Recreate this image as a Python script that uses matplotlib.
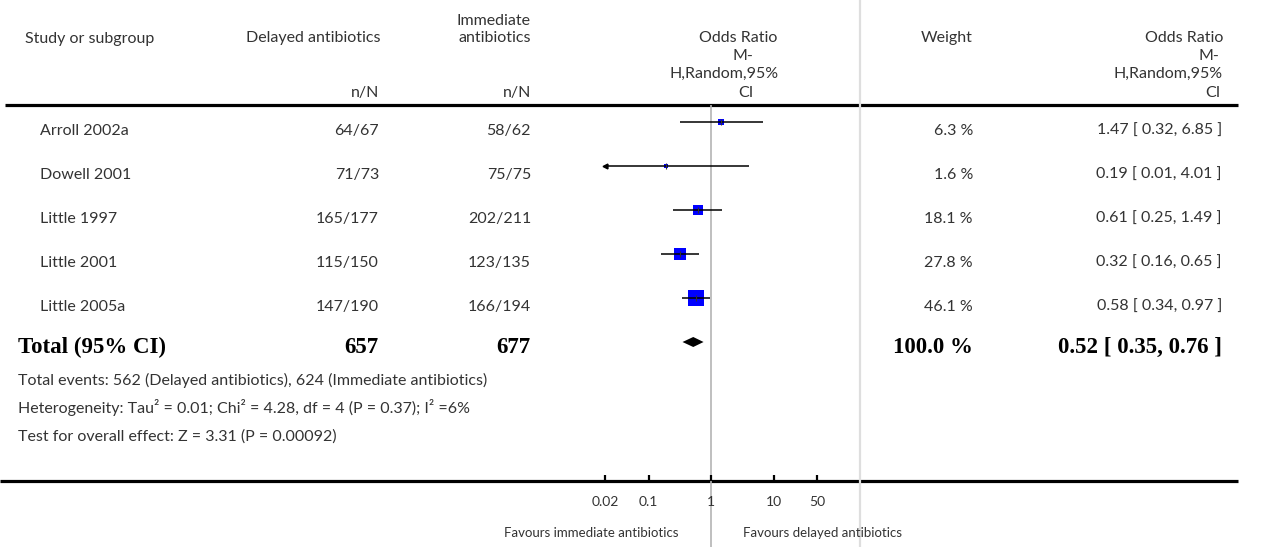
import numpy as np
import matplotlib
matplotlib.use('Agg')
import matplotlib.pyplot as plt
from matplotlib.ticker import NullLocator

# ---- data ----
studies = ['Arroll 2002a', 'Dowell 2001', 'Little 1997', 'Little 2001', 'Little 2005a']
delayed_nN = ['64/67', '71/73', '165/177', '115/150', '147/190']
immediate_nN = ['58/62', '75/75', '202/211', '123/135', '166/194']
odds_ratio = [1.47, 0.19, 0.61, 0.32, 0.58]
ci_low = [0.32, 0.01, 0.25, 0.16, 0.34]
ci_high = [6.85, 4.01, 1.49, 0.65, 0.97]
weights = [6.3, 1.6, 18.1, 27.8, 46.1]

total_delayed = 657
total_immediate = 677
total_or = 0.52
total_low = 0.35
total_high = 0.76
total_weight = 100.0

footer_lines = [
    'Total events: 562 (Delayed antibiotics), 624 (Immediate antibiotics)',
    'Heterogeneity: Tau\u00b2 = 0.01; Chi\u00b2 = 4.28, df = 4 (P = 0.37); I\u00b2 =6%',
    'Test for overall effect: Z = 3.31 (P = 0.00092)',
]
tick_values = [0.02, 0.1, 1, 10, 50]
tick_labels = ['0.02', '0.1', '1', '10', '50']
x_limits = (0.02, 50)
favours_left = 'Favours immediate antibiotics'
favours_right = 'Favours delayed antibiotics'

# ---- layout (pixels, y from top) ----
W, H = 1264, 547
PX_PER_DECADE = 62.5
NULL_X = 711
AXIS_Y = 481
TOP_LINE_Y = 105
row_y = [122 + 44 * i for i in range(len(studies))]
total_y = 342
TEXT = '#333333'
FS = 11.5
BOLD_FS = 16.5
SANS = ['Lato', 'DejaVu Sans']
SERIF = ['Liberation Serif', 'DejaVu Serif']

plt.rcParams['font.family'] = SANS

fig = plt.figure(figsize=(W / 100, H / 100), dpi=100)
bg = fig.add_axes([0, 0, 1, 1])
bg.set_xlim(0, W)
bg.set_ylim(H, 0)
bg.axis('off')


def txt(x, y, s, ha='left', size=FS, bold=False, color=TEXT):
    if bold:
        bg.text(x, y, s, ha=ha, va='baseline', fontsize=size, family=SERIF,
                fontweight='bold', color='black')
    else:
        bg.text(x, y, s, ha=ha, va='baseline', fontsize=size, color=color)


# header
txt(25, 43, 'Study or subgroup')
txt(380, 42, 'Delayed antibiotics', ha='right')
txt(531, 25, 'Immediate', ha='right')
txt(531, 42, 'antibiotics', ha='right')
txt(379, 97, 'n/N', ha='right')
txt(531, 97, 'n/N', ha='right')
for s, x, y in [('Odds Ratio', 738, 42), ('M-', 743, 60),
                ('H,Random,95%', 724, 78), ('CI', 746, 97)]:
    txt(x, y, s, ha='center')
txt(973, 42, 'Weight', ha='right')
for s, x, y in [('Odds Ratio', 1223, 42), ('M-', 1209, 60),
                ('H,Random,95%', 1223, 78), ('CI', 1221, 97)]:
    txt(x, y, s, ha='center' if s == 'M-' else 'right')

# rules
bg.hlines(TOP_LINE_Y, 5, 1238, color='black', lw=2.3)
bg.hlines(AXIS_Y, 0, 1238, color='black', lw=2.3)
bg.vlines(860, 0, H, color='#dedede', lw=1.6)

# study rows
for i, name in enumerate(studies):
    yb = row_y[i] + 13
    txt(40, yb, name)
    txt(379, yb, delayed_nN[i], ha='right')
    txt(531, yb, immediate_nN[i], ha='right')
    txt(973, yb, f'{weights[i]:.1f} %', ha='right')
    txt(1222, yb, f'{odds_ratio[i]:.2f} [ {ci_low[i]:.2f}, {ci_high[i]:.2f} ]', ha='right')

# total row
yb = total_y + 11
txt(18, yb, 'Total (95% CI)', size=BOLD_FS, bold=True)
txt(378, yb, str(total_delayed), ha='right', size=BOLD_FS, bold=True)
txt(530, yb, str(total_immediate), ha='right', size=BOLD_FS, bold=True)
txt(973, yb, f'{total_weight:.1f} %', ha='right', size=BOLD_FS, bold=True)
txt(1222, yb, f'{total_or:.2f} [ {total_low:.2f}, {total_high:.2f} ]',
    ha='right', size=BOLD_FS, bold=True)

for k, line in enumerate(footer_lines):
    txt(18, 385 + 28 * k, line)

txt(678, 537, favours_left, ha='right', size=9.5)
txt(743, 537, favours_right, size=9.5)

# ---- forest panel ----
left = NULL_X + np.log10(x_limits[0]) * PX_PER_DECADE
right = NULL_X + np.log10(x_limits[1]) * PX_PER_DECADE
fa = fig.add_axes([left / W, 1 - AXIS_Y / H, (right - left) / W, AXIS_Y / H])
fa.patch.set_alpha(0)
fa.set_xscale('log')
fa.set_xlim(*x_limits)
fa.set_ylim(AXIS_Y, 0)
for sp in fa.spines.values():
    sp.set_visible(False)
fa.set_yticks([])
fa.set_xticks(tick_values)
fa.set_xticklabels(tick_labels)
fa.xaxis.set_minor_locator(NullLocator())
fa.tick_params(axis='x', direction='in', length=4.5, width=1.6, pad=11,
               labelsize=10, labelcolor=TEXT, color='black')

fa.vlines(1, TOP_LINE_Y, H, color='#b4b4b4', lw=1.2, clip_on=False, zorder=1)

for i in range(len(studies)):
    y = row_y[i]
    side = 3.3 * weights[i] ** 0.4
    fa.scatter([odds_ratio[i]], [y], marker='s', s=(side * 0.72) ** 2,
               color='#0000ff', linewidths=0, zorder=3)
    lo = max(ci_low[i], x_limits[0])
    hi = min(ci_high[i], x_limits[1])
    fa.hlines(y, lo, hi, color='black', lw=1.1, zorder=4)
    fa.plot([odds_ratio[i]], [y], marker='|', ms=4, mew=0.8, color='#333333', zorder=5)
    if ci_low[i] < x_limits[0]:
        fa.plot([x_limits[0]], [y], marker='<', ms=3.5, color='black',
                clip_on=False, zorder=5)

fa.fill([total_low, total_or, total_high, total_or],
        [total_y, total_y - 5, total_y, total_y + 5], color='black', lw=0, zorder=3)

fig.savefig('out.png', dpi=100)
